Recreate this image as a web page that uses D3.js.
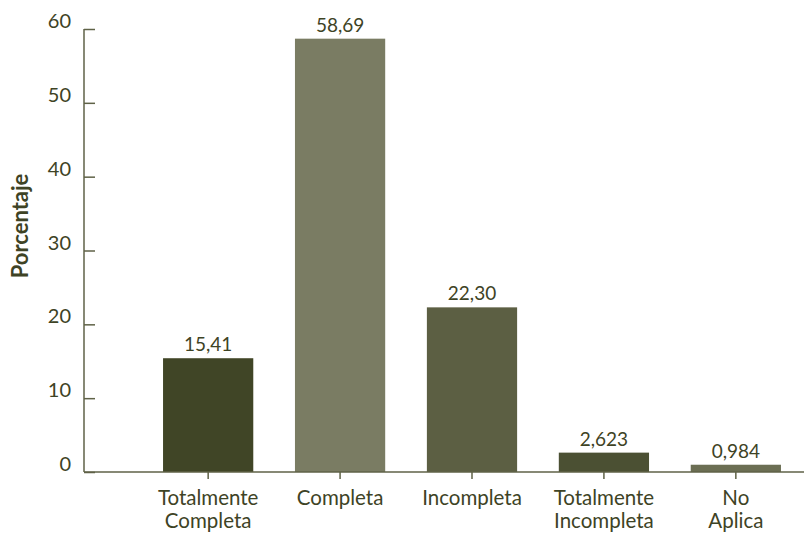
<!DOCTYPE html>
<html>
<head>
<meta charset="utf-8">
<script src="https://cdn.jsdelivr.net/npm/d3@7"></script>
<style>
  html, body { margin: 0; padding: 0; background: #fff; }
  svg { display: block; }
  text { font-family: Lato, "Open Sans", sans-serif; fill: #3e4325; }
</style>
</head>
<body>
<svg id="chart" width="804" height="535"></svg>
<script>
const categories = [["Totalmente", "Completa"], ["Completa"], ["Incompleta"], ["Totalmente", "Incompleta"], ["No", "Aplica"]];
const values = [15.41, 58.69, 22.30, 2.623, 0.984];
const valueLabels = ["15,41", "58,69", "22,30", "2,623", "0,984"];
const barColors = ["#404526", "#7a7c63", "#5c5f43", "#4b5033", "#6b6e53"];
const yTicks = [0, 10, 20, 30, 40, 50, 60];

const svg = d3.select("#chart");
const axisColor = "#5f6247";
const x0 = 84, yTop = 29, yBottom = 472;

const keys = categories.map((c, i) => i);
const x = d3.scaleBand().domain(keys).range([142.2, 801.8]).paddingInner(0.316).paddingOuter(0.158);
const y = d3.scaleLinear().domain([0, 60]).range([yBottom, yTop]);

// bars
svg.selectAll("rect.bar").data(values).enter().append("rect")
  .attr("class", "bar")
  .attr("x", (d, i) => x(i))
  .attr("y", d => y(d))
  .attr("width", x.bandwidth())
  .attr("height", d => y(0) - y(d))
  .attr("fill", (d, i) => barColors[i]);

// value labels
svg.selectAll("text.val").data(values).enter().append("text")
  .attr("class", "val")
  .attr("x", (d, i) => x(i) + x.bandwidth() / 2)
  .attr("y", d => y(d) - 7)
  .attr("text-anchor", "middle")
  .attr("font-size", 19)
  .text((d, i) => valueLabels[i]);

// y axis
const yAxis = d3.axisRight(y).tickValues(yTicks).tickSize(11).tickFormat(d3.format("d"));
const gy = svg.append("g").attr("transform", `translate(${x0},0)`).call(yAxis);
gy.select(".domain").remove();
gy.selectAll(".tick line").attr("stroke", axisColor).attr("stroke-width", 1.5);
gy.selectAll(".tick text").remove();
svg.append("line").attr("x1", x0).attr("x2", x0).attr("y1", y(60)).attr("y2", y(0))
  .attr("stroke", axisColor).attr("stroke-width", 1.5);
svg.selectAll("text.ytick").data(yTicks).enter().append("text")
  .attr("class", "ytick")
  .attr("x", 71)
  .attr("y", d => y(d) - 1)
  .attr("text-anchor", "end")
  .attr("font-size", 20)
  .text(d => d);

// x axis
svg.append("line").attr("x1", x0).attr("x2", 804).attr("y1", y(0)).attr("y2", y(0))
  .attr("stroke", axisColor).attr("stroke-width", 1.5);
const xAxis = d3.axisBottom(x).tickSize(7).tickFormat("");
const gx = svg.append("g").attr("transform", `translate(0,${y(0)})`).call(xAxis);
gx.select(".domain").remove();
gx.selectAll(".tick line").attr("stroke", axisColor).attr("stroke-width", 1.5);

// x labels
const xl = svg.selectAll("text.xl").data(categories).enter().append("text")
  .attr("class", "xl")
  .attr("text-anchor", "middle")
  .attr("font-size", 20.5)
  .attr("transform", (d, i) => `translate(${x(i) + x.bandwidth() / 2},505)`);
xl.selectAll("tspan").data(d => d).enter().append("tspan")
  .attr("x", 0)
  .attr("y", (d, j) => j * 23)
  .text(d => d);

// y title
svg.append("text")
  .attr("transform", "translate(28,226) rotate(-90)")
  .attr("text-anchor", "middle")
  .attr("font-size", 22)
  .attr("font-weight", "bold")
  .text("Porcentaje");
</script>
</body>
</html>
